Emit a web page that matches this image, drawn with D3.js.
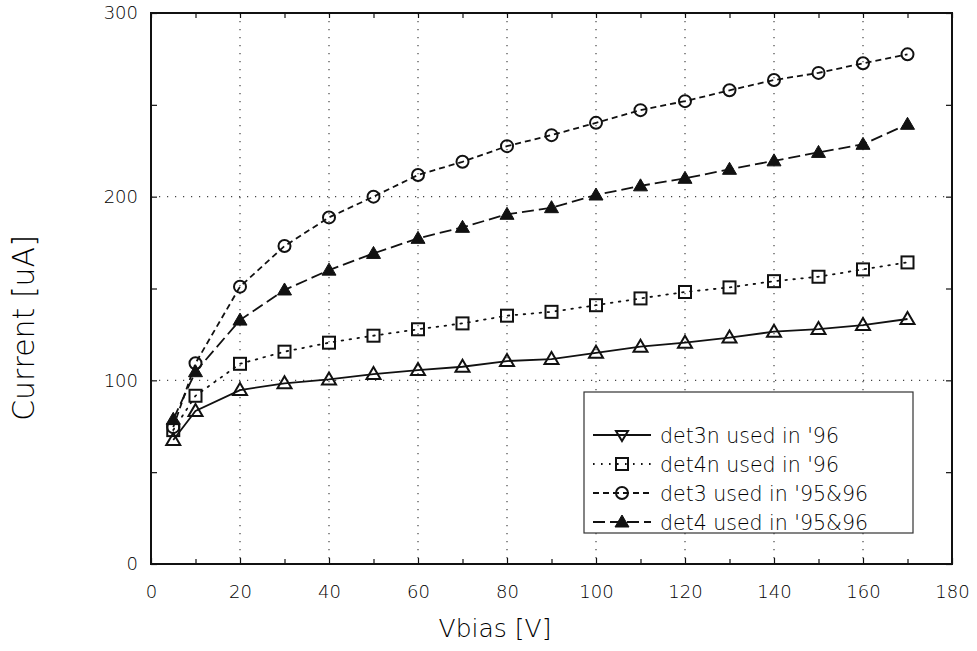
<!DOCTYPE html>
<html lang="en">
<head>
  <meta charset="UTF-8">
  <title>Current vs Vbias</title>
  <script src="https://d3js.org/d3.v7.min.js"></script>
  <style>
    * { margin: 0; padding: 0; box-sizing: border-box; }
    body { background: #fff; }
    svg text { font-family: "DejaVu Sans", sans-serif; font-weight: 200; fill: #000; }
  </style>
</head>
<body>
  <div id="chart"></div>
  <script>
    // values
    const vbias = [5, 10, 20, 30, 40, 50, 60, 70, 80, 90, 100, 110, 120, 130, 140, 150, 160, 170];
    const det3n = [67.5, 83.3, 94.7, 98.4, 100.5, 103.4, 105.6, 107.4, 110.5, 111.6, 115, 118.3, 120.5, 123.3, 126.5, 127.9, 130.1, 133.4];
    const det4n = [72.9, 91.6, 109, 115.6, 120.5, 124.3, 127.8, 131, 135.2, 137.3, 140.9, 144.6, 148.1, 150.6, 154, 156.4, 160.4, 164.2];
    const det3 = [74.5, 109.3, 151, 173.1, 188.7, 200, 211.8, 219, 227.5, 233.5, 240.2, 247.1, 252, 257.9, 263.5, 267.4, 272.6, 277.5];
    const det4 = [78.8, 104.7, 132.8, 149.2, 160, 169.1, 177.3, 183.3, 190.4, 194, 200.9, 205.9, 210, 214.9, 219.5, 224.1, 228.5, 239.4];

    const xTicks = [0, 20, 40, 60, 80, 100, 120, 140, 160, 180];
    const xMinor = [10, 30, 50, 70, 90, 110, 130, 150, 170];
    const yTicks = [0, 100, 200, 300];
    const yMinor = [50, 150, 250];

    const seriesNames = ["det3n used in '96", "det4n used in '96", "det3 used in '95&96", "det4 used in '95&96"];

    const W = 977, H = 651;
    const m = {left: 151, right: 952, top: 13, bottom: 564};

    const x = d3.scaleLinear().domain([0, 180]).range([m.left, m.right]);
    const y = d3.scaleLinear().domain([0, 300]).range([m.bottom, m.top]);

    const svg = d3.select("#chart").append("svg")
      .attr("width", W).attr("height", H);

    // dotted grid
    const grid = svg.append("g").attr("stroke", "#444").attr("stroke-width", 1.2)
      .attr("stroke-dasharray", "1.2,6.8");
    grid.selectAll(".vg").data(xTicks.slice(1, -1)).enter().append("line")
      .attr("x1", d => x(d)).attr("x2", d => x(d)).attr("y1", m.top).attr("y2", m.bottom);
    grid.selectAll(".hg").data(yTicks.slice(1, -1)).enter().append("line")
      .attr("y1", d => y(d)).attr("y2", d => y(d)).attr("x1", m.left).attr("x2", m.right);

    // axes, ticks pointing inward
    function styleAxis(g) {
      g.select(".domain").remove();
      g.selectAll(".tick line").attr("stroke", "#111").attr("stroke-width", 1.2);
      g.selectAll(".tick text").style("font-size", "18px").attr("fill", "#000");
    }
    svg.append("g").attr("transform", `translate(0,${m.bottom})`)
      .call(d3.axisBottom(x).tickValues(xTicks).tickSize(-6).tickPadding(21).tickFormat(d3.format("d")))
      .call(styleAxis);
    svg.append("g").attr("transform", `translate(0,${m.bottom})`)
      .call(d3.axisBottom(x).tickValues(xMinor).tickSize(-5).tickFormat(""))
      .call(styleAxis);
    svg.append("g").attr("transform", `translate(0,${m.top})`)
      .call(d3.axisTop(x).tickValues(xTicks.concat(xMinor)).tickSize(-5).tickFormat(""))
      .call(styleAxis);
    svg.append("g").attr("transform", `translate(${m.left},0)`)
      .call(d3.axisLeft(y).tickValues(yTicks).tickSize(-6).tickPadding(13).tickFormat(d3.format("d")))
      .call(styleAxis);
    svg.append("g").attr("transform", `translate(${m.left},0)`)
      .call(d3.axisLeft(y).tickValues(yMinor).tickSize(-6).tickFormat(""))
      .call(styleAxis);
    svg.append("g").attr("transform", `translate(${m.right},0)`)
      .call(d3.axisRight(y).tickValues(yTicks.concat(yMinor)).tickSize(-6).tickFormat(""))
      .call(styleAxis);

    // frame
    svg.append("rect")
      .attr("x", m.left).attr("y", m.top)
      .attr("width", m.right - m.left).attr("height", m.bottom - m.top)
      .attr("fill", "none").attr("stroke", "#111").attr("stroke-width", 2);

    // axis titles
    svg.append("text")
      .attr("transform", `translate(34,328) rotate(-90)`)
      .attr("text-anchor", "middle")
      .style("font-size", "30px")
      .text("Current [uA]");

    svg.append("text")
      .attr("x", 495).attr("y", 637)
      .attr("text-anchor", "middle")
      .style("font-size", "25px")
      .text("Vbias [V]");

    // series
    const series = [
      {name: seriesNames[0], vals: det3n, dash: null, sw: 1.8, marker: "triUp", legendMarker: "triDown"},
      {name: seriesNames[1], vals: det4n, dash: "1.6,6.4", sw: 1.8, marker: "square", legendMarker: "square"},
      {name: seriesNames[2], vals: det3, dash: "6,4", sw: 1.8, marker: "circle", legendMarker: "circle"},
      {name: seriesNames[3], vals: det4, dash: "12,5", sw: 1.8, marker: "triFill", legendMarker: "triFill"}
    ];

    const line = d3.line().x(d => x(d[0])).y(d => y(d[1]));

    function drawMarker(g, type, cx, cy) {
      if (type === "circle") {
        g.append("circle").attr("cx", cx).attr("cy", cy).attr("r", 6)
          .attr("fill", "none").attr("stroke", "#111").attr("stroke-width", 2);
      } else if (type === "square") {
        g.append("rect").attr("x", cx - 6).attr("y", cy - 6).attr("width", 12).attr("height", 12)
          .attr("fill", "none").attr("stroke", "#111").attr("stroke-width", 2);
      } else if (type === "triUp") {
        g.append("path").attr("d", `M${cx},${cy - 7}L${cx + 7},${cy + 5}L${cx - 7},${cy + 5}Z`)
          .attr("fill", "none").attr("stroke", "#111").attr("stroke-width", 2);
      } else if (type === "triDown") {
        g.append("path").attr("d", `M${cx},${cy + 6}L${cx + 6},${cy - 4}L${cx - 6},${cy - 4}Z`)
          .attr("fill", "none").attr("stroke", "#111").attr("stroke-width", 2);
      } else if (type === "triFill") {
        g.append("path").attr("d", `M${cx},${cy - 7}L${cx + 7},${cy + 5}L${cx - 7},${cy + 5}Z`)
          .attr("fill", "#111").attr("stroke", "#111").attr("stroke-width", 1);
      }
    }

    series.forEach(s => {
      const pts = vbias.map((v, i) => [v, s.vals[i]]);
      svg.append("path")
        .datum(pts)
        .attr("d", line)
        .attr("fill", "none")
        .attr("stroke", "#111")
        .attr("stroke-width", s.sw)
        .attr("stroke-linecap", s.dash && s.dash.startsWith("1.6") ? "round" : "butt")
        .attr("stroke-dasharray", s.dash);
      const mg = svg.append("g");
      pts.forEach(p => drawMarker(mg, s.marker, x(p[0]), y(p[1])));
    });

    // legend
    const lg = svg.append("g");
    lg.append("rect")
      .attr("x", 584).attr("y", 392).attr("width", 329).attr("height", 141)
      .attr("fill", "#fff").attr("stroke", "#333").attr("stroke-width", 1.2);
    const rowY = [435, 464, 493, 522];
    series.forEach((s, i) => {
      lg.append("line")
        .attr("x1", 593).attr("x2", 651).attr("y1", rowY[i]).attr("y2", rowY[i])
        .attr("stroke", "#111").attr("stroke-width", s.sw)
        .attr("stroke-dasharray", s.dash);
      drawMarker(lg, s.legendMarker, 622, rowY[i]);
      lg.append("text")
        .attr("x", 660).attr("y", rowY[i] + 8)
        .style("font-size", "20.5px")
        .text(s.name);
    });
  </script>
</body>
</html>
